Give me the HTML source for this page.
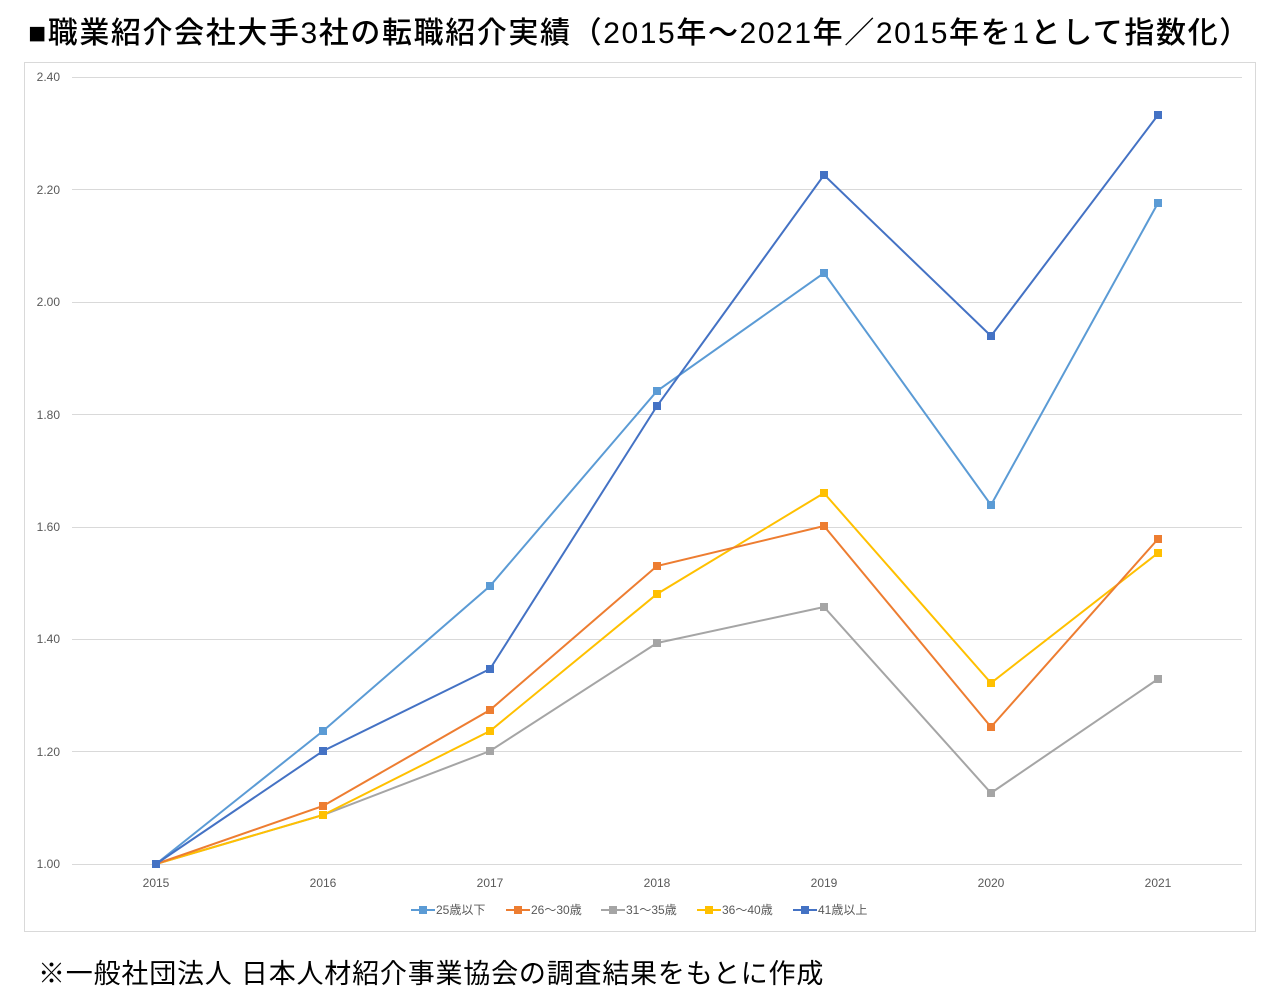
<!DOCTYPE html>
<html><head><meta charset="utf-8"><style>
body{margin:0;background:#fff;width:1280px;height:1003px;overflow:hidden;font-family:"Liberation Sans","Noto Sans CJK JP",sans-serif;}
.t{position:absolute;left:28px;top:8px;font-size:30px;letter-spacing:1.6px;color:#000;white-space:nowrap;font-weight:500;}
.f{position:absolute;left:38px;top:952px;font-size:27px;letter-spacing:0.8px;color:#000;white-space:nowrap;}
svg{position:absolute;left:0;top:0}
</style></head><body>
<div class="t">■職業紹介会社大手3社の転職紹介実績（2015年〜2021年／2015年を1として指数化）</div>
<svg width="1280" height="1003" font-family="Liberation Sans, Noto Sans CJK JP, sans-serif">
<rect x="24.5" y="62.5" width="1231" height="869" fill="none" stroke="#d9d9d9"/>
<g stroke="#d9d9d9" stroke-width="1">
<line x1="72" x2="1242" y1="77.5" y2="77.5"/><line x1="72" x2="1242" y1="189.5" y2="189.5"/>
<line x1="72" x2="1242" y1="302.5" y2="302.5"/><line x1="72" x2="1242" y1="414.5" y2="414.5"/>
<line x1="72" x2="1242" y1="527.5" y2="527.5"/><line x1="72" x2="1242" y1="639.5" y2="639.5"/>
<line x1="72" x2="1242" y1="751.5" y2="751.5"/><line x1="72" x2="1242" y1="864.5" y2="864.5"/>
</g>
<g font-size="12" fill="#595959" text-anchor="end">
<text x="60" y="81">2.40</text><text x="60" y="194">2.20</text><text x="60" y="306">2.00</text><text x="60" y="419">1.80</text>
<text x="60" y="531">1.60</text><text x="60" y="643">1.40</text><text x="60" y="756">1.20</text><text x="60" y="868">1.00</text>
</g>
<g font-size="12" fill="#595959" text-anchor="middle">
<text x="156" y="887">2015</text><text x="323" y="887">2016</text><text x="490" y="887">2017</text><text x="657" y="887">2018</text>
<text x="824" y="887">2019</text><text x="991" y="887">2020</text><text x="1158" y="887">2021</text>
</g>
<g stroke-width="2" fill="none">
<polyline stroke="#a5a5a5" points="156,864 323,815 490,751 657,643 824,607 991,793 1158,679"/>
<polyline stroke="#ffc000" points="156,864 323,815 490,731 657,594 824,493 991,683 1158,553"/>
<polyline stroke="#ed7d31" points="156,864 323,806 490,710 657,566 824,526 991,727 1158,539"/>
<polyline stroke="#5b9bd5" points="156,864 323,731 490,586 657,391 824,273 991,505 1158,203"/>
<polyline stroke="#4472c4" points="156,864 323,751 490,669 657,406 824,175 991,336 1158,115"/>
</g>
<g fill="#a5a5a5"><rect x="152" y="860" width="8" height="8"/><rect x="319" y="811" width="8" height="8"/><rect x="486" y="747" width="8" height="8"/><rect x="653" y="639" width="8" height="8"/><rect x="820" y="603" width="8" height="8"/><rect x="987" y="789" width="8" height="8"/><rect x="1154" y="675" width="8" height="8"/></g>
<g fill="#ffc000"><rect x="152" y="860" width="8" height="8"/><rect x="319" y="811" width="8" height="8"/><rect x="486" y="727" width="8" height="8"/><rect x="653" y="590" width="8" height="8"/><rect x="820" y="489" width="8" height="8"/><rect x="987" y="679" width="8" height="8"/><rect x="1154" y="549" width="8" height="8"/></g>
<g fill="#ed7d31"><rect x="152" y="860" width="8" height="8"/><rect x="319" y="802" width="8" height="8"/><rect x="486" y="706" width="8" height="8"/><rect x="653" y="562" width="8" height="8"/><rect x="820" y="522" width="8" height="8"/><rect x="987" y="723" width="8" height="8"/><rect x="1154" y="535" width="8" height="8"/></g>
<g fill="#5b9bd5"><rect x="152" y="860" width="8" height="8"/><rect x="319" y="727" width="8" height="8"/><rect x="486" y="582" width="8" height="8"/><rect x="653" y="387" width="8" height="8"/><rect x="820" y="269" width="8" height="8"/><rect x="987" y="501" width="8" height="8"/><rect x="1154" y="199" width="8" height="8"/></g>
<g fill="#4472c4"><rect x="152" y="860" width="8" height="8"/><rect x="319" y="747" width="8" height="8"/><rect x="486" y="665" width="8" height="8"/><rect x="653" y="402" width="8" height="8"/><rect x="820" y="171" width="8" height="8"/><rect x="987" y="332" width="8" height="8"/><rect x="1154" y="111" width="8" height="8"/></g>
<g font-size="12" fill="#595959">
<line x1="411" x2="435" y1="910" y2="910" stroke="#5b9bd5" stroke-width="2"/><rect x="419" y="906" width="8" height="8" fill="#5b9bd5"/><text x="436" y="914">25歳以下</text>
<line x1="506" x2="530" y1="910" y2="910" stroke="#ed7d31" stroke-width="2"/><rect x="514" y="906" width="8" height="8" fill="#ed7d31"/><text x="531" y="914">26〜30歳</text>
<line x1="601" x2="625" y1="910" y2="910" stroke="#a5a5a5" stroke-width="2"/><rect x="609" y="906" width="8" height="8" fill="#a5a5a5"/><text x="626" y="914">31〜35歳</text>
<line x1="697" x2="721" y1="910" y2="910" stroke="#ffc000" stroke-width="2"/><rect x="705" y="906" width="8" height="8" fill="#ffc000"/><text x="722" y="914">36〜40歳</text>
<line x1="793" x2="817" y1="910" y2="910" stroke="#4472c4" stroke-width="2"/><rect x="801" y="906" width="8" height="8" fill="#4472c4"/><text x="818" y="914">41歳以上</text>
</g>
</svg>
<div class="f">※一般社団法人 日本人材紹介事業協会の調査結果をもとに作成</div>
</body></html>
